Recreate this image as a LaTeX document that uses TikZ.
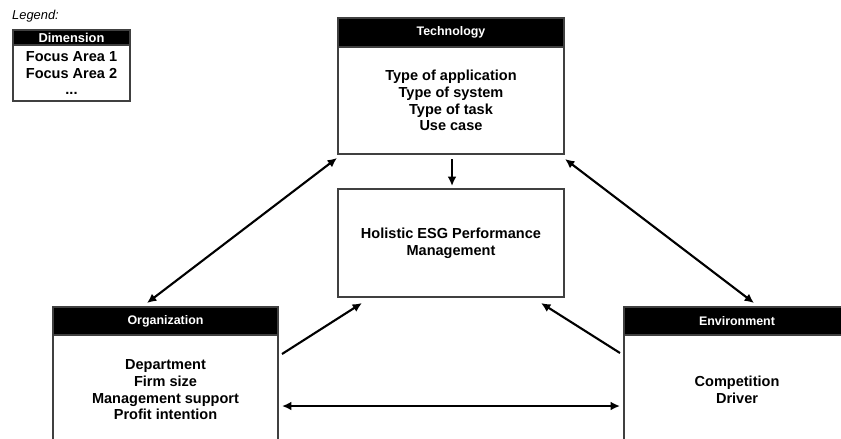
\documentclass[tikz,border=0pt]{standalone}
\usepackage{fontspec}
\setmainfont{Liberation Sans}
\usepackage{tikz}
\usetikzlibrary{calc,arrows.meta,positioning}

\tikzset{
  dimbody/.style={draw=black!75, line width=0.9pt, fill=white, align=center, inner sep=2pt, outer sep=0pt,
    font=\fontsize{12.4}{14.2}\selectfont\bfseries},
  dimhead/.style={draw=black!75, line width=0.9pt, fill=black, text=white, inner sep=0pt, outer sep=0pt,
    font=\fontsize{10.6}{12}\selectfont\bfseries},
  link/.style={line width=1.8pt, black, {Latex[length=8pt,width=7.5pt]}-{Latex[length=8pt,width=7.5pt]}},
  onelink/.style={line width=1.8pt, black, -{Latex[length=8pt,width=7.5pt]}}
}

\begin{document}
\begin{tikzpicture}[x=0.03cm,y=-0.03cm]
\useasboundingbox (0,0) rectangle (841,438);
\clip (0,0) rectangle (841,438);

% legend
\node[anchor=west, inner sep=0pt, font=\fontsize{11}{12}\selectfont\itshape] (legtitle) at (12,16) {Legend:};
\node[dimbody, minimum width=3.51cm, minimum height=1.68cm] (legbody) at (71.5,73)
  {Focus Area 1\\Focus Area 2\\...};
\node[dimhead, minimum width=3.51cm, minimum height=0.45cm, font=\fontsize{11}{12}\selectfont\bfseries,
  above=0pt of legbody] (leghead) {Dimension};

% dimensions
\node[dimbody, minimum width=6.78cm, minimum height=3.21cm] (techbody) at (451,100.5)
  {Type of application\\Type of system\\Type of task\\Use case};
\node[dimhead, minimum width=6.78cm, minimum height=0.87cm, above=0pt of techbody] (techhead) {Technology};

\node[dimbody, minimum width=6.78cm, minimum height=3.24cm] (hesg) at (451,243)
  {Holistic ESG Performance\\Management};

\node[dimbody, minimum width=6.75cm, minimum height=3.3cm] (orgbody) at (165.5,390)
  {Department\\Firm size\\Management support\\Profit intention};
\node[dimhead, minimum width=6.75cm, minimum height=0.84cm, above=0pt of orgbody] (orghead) {Organization};

\node[dimbody, minimum width=6.78cm, minimum height=3.3cm] (envbody) at (737,390)
  {Competition\\Driver};
\node[dimhead, minimum width=6.78cm, minimum height=0.84cm, above=0pt of envbody] (envhead) {Environment};

% connections
\draw[onelink] ($(techbody.south)+(1,5)$) -- ($(hesg.north)+(1,-3)$);
\draw[link] ($(techbody.south west)+(-1,4)$) -- ($(orghead.north)+(-18.5,-4)$);
\draw[link] ($(techbody.south east)+(1,5)$) -- ($(envhead.north)+(17,-4)$);
\draw[onelink] ($(orgbody.north east)+(4,19)$) -- ($(hesg.south west)+(24,6)$);
\draw[onelink] ($(envbody.north west)+(-4,18)$) -- ($(hesg.south east)+(-23,6)$);
\draw[link] ($(orgbody.east)+(4,16)$) -- ($(envbody.west)+(-4,16)$);
\end{tikzpicture}
\end{document}
